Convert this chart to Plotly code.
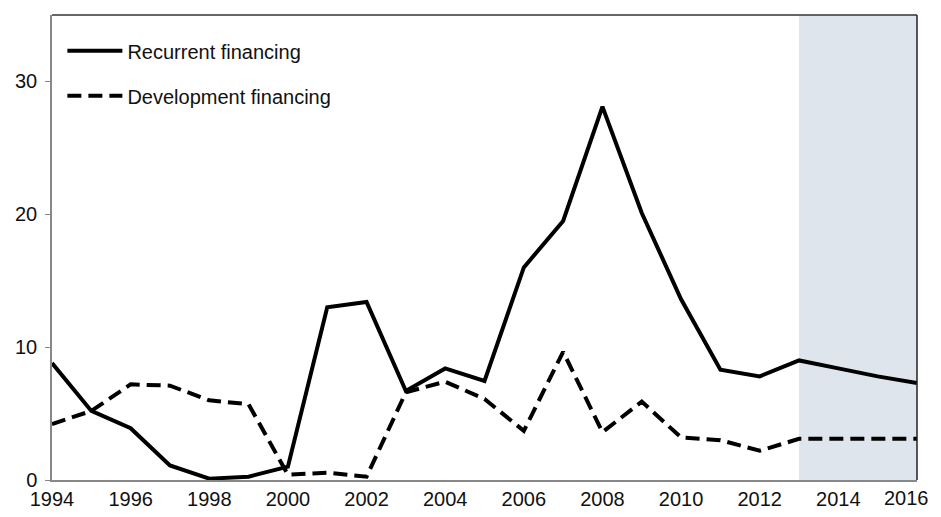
import plotly.graph_objects as go

years = list(range(1994, 2017))
recurrent = [8.8, 5.2, 3.9, 1.1, 0.1, 0.25, 1.0, 13.0, 13.4, 6.7, 8.4, 7.45,
             16.0, 19.5, 28.1, 20.1, 13.6, 8.3, 7.8, 9.0, 8.4, 7.8, 7.3]
development = [4.2, 5.2, 7.2, 7.1, 6.0, 5.7, 0.4, 0.55, 0.25, 6.6, 7.4, 6.1,
               3.7, 9.65, 3.6, 5.9, 3.2, 3.0, 2.2, 3.1, 3.1, 3.1, 3.1]
projection_start, projection_end = 2013, 2016
x_ticks = list(range(1994, 2017, 2))
y_ticks = [0, 10, 20, 30]

font_family = "Liberation Sans, Arial, sans-serif"

fig = go.Figure()
fig.add_trace(go.Scatter(x=years, y=recurrent, mode="lines", name="Recurrent financing",
                         line=dict(color="black", width=4), legendgroup="a"))
fig.add_trace(go.Scatter(x=years, y=development, mode="lines", name="Development financing",
                         line=dict(color="black", width=4, dash="14px,7px"), legendgroup="b"))

fig.add_vrect(x0=projection_start, x1=projection_end, fillcolor="#DEE5ED",
              line_width=0, layer="below")
fig.add_shape(type="line", xref="paper", yref="paper", x0=0, x1=1, y0=1, y1=1,
              line=dict(color="#333333", width=1.5))
fig.add_shape(type="line", xref="paper", yref="paper", x0=1, x1=1, y0=0, y1=1,
              line=dict(color="#222222", width=1.5))

# last tick label is placed right-aligned at the edge so it is not clipped by the window
fig.add_annotation(x=x_ticks[-1], y=0, xref="x", yref="y", text=str(x_ticks[-1]),
                   showarrow=False, xanchor="right", yanchor="top", xshift=14, yshift=-5,
                   font=dict(family=font_family, size=20, color="#111111"))

# page body has an 8px margin; offset the figure so the plot area lands at 52..917 x 15..480
fig.update_layout(
    width=933, height=501,
    margin=dict(l=44, r=24, t=7, b=29, autoexpand=False),
    paper_bgcolor="white", plot_bgcolor="white",
    font=dict(family=font_family, size=20, color="#111111"),
    showlegend=True,
    legend=dict(x=0.012, y=0.965, xanchor="left", yanchor="top",
                bgcolor="rgba(0,0,0,0)", font=dict(size=20),
                tracegroupgap=16, itemwidth=55),
    xaxis=dict(range=[1994, 2016], tickvals=x_ticks[:-1], showgrid=False, zeroline=False,
               showline=True, linecolor="#888888", linewidth=2, ticks="",
               tickfont=dict(size=20), ticklabeloverflow="allow", automargin=False),
    yaxis=dict(range=[0, 35], tickvals=y_ticks, showgrid=False, zeroline=False,
               showline=True, linecolor="#888888", linewidth=1.5, ticks="outside",
               ticklen=5, tickcolor="#888888", tickfont=dict(size=20),
               ticklabelstandoff=4, automargin=False),
)

fig.write_html("out.html", config={"displayModeBar": False})
